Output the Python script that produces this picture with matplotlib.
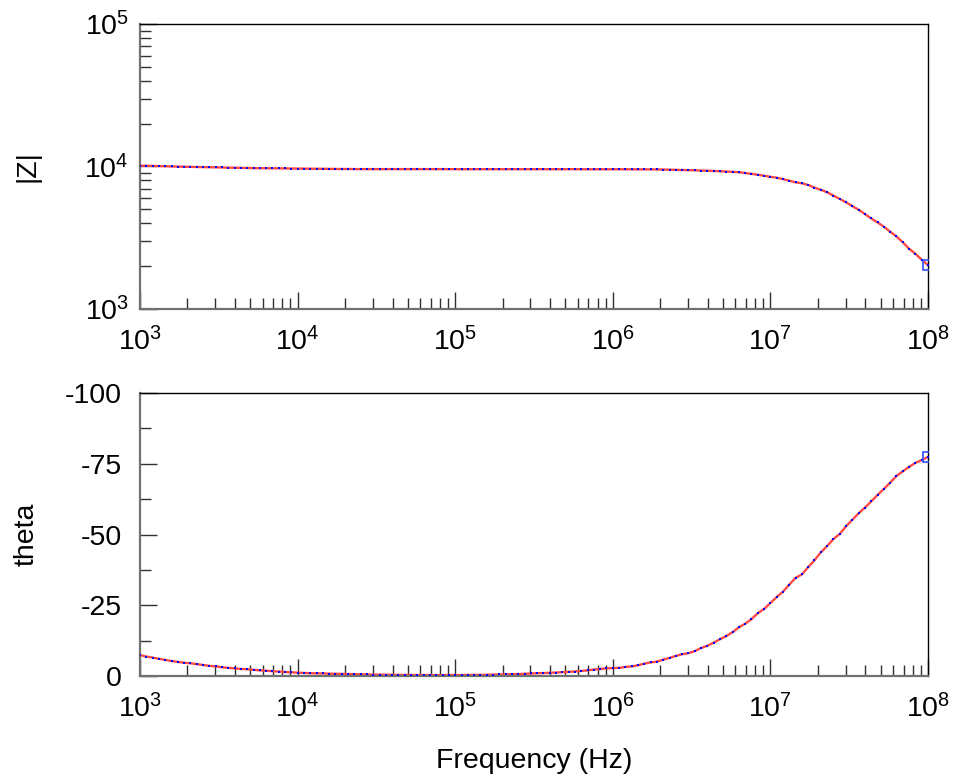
import numpy as np
import matplotlib
matplotlib.use("Agg")
import matplotlib.pyplot as plt
from matplotlib.ticker import FixedLocator, FuncFormatter, LogLocator, NullFormatter

plt.rcParams['font.family'] = ['Liberation Sans', 'DejaVu Sans']
plt.rcParams['axes.unicode_minus'] = False

# frequency sweep: 25 points per decade, 1 kHz .. 100 MHz
freq = np.logspace(3, 8, 126)

# |Z| in ohm
zmod = [
    10150, 10120, 10090, 10060, 10030, 10000, 9980, 9960, 9940, 9920,
    9900, 9880, 9860, 9840, 9820, 9800, 9780, 9760, 9740, 9730,
    9720, 9710, 9700, 9690, 9680, 9670, 9660, 9650, 9640, 9630,
    9620, 9610, 9600, 9600, 9590, 9580, 9580, 9580, 9580, 9580,
    9580, 9580, 9580, 9580, 9580, 9580, 9580, 9580, 9580, 9580,
    9570, 9570, 9570, 9570, 9570, 9570, 9570, 9570, 9570, 9570,
    9570, 9570, 9570, 9570, 9570, 9570, 9570, 9570, 9570, 9570,
    9560, 9560, 9560, 9560, 9560, 9560, 9560, 9560, 9550, 9550,
    9550, 9540, 9530, 9520, 9500, 9470, 9450, 9420, 9400, 9370,
    9340, 9300, 9260, 9220, 9170, 9110, 9000, 8880, 8750, 8610,
    8470, 8340, 8160, 7950, 7740, 7620, 7420, 7100, 6870, 6590,
    6250, 5920, 5610, 5270, 4970, 4630, 4320, 4050, 3780, 3490,
    3230, 2940, 2650, 2440, 2220, 2030,
]

# phase angle in degrees
theta = [
    -7.4, -6.9, -6.5, -6.1, -5.7, -5.3, -5.0, -4.7, -4.5, -4.2,
    -3.9, -3.6, -3.4, -3.1, -2.9, -2.7, -2.5, -2.4, -2.2, -2.0,
    -1.9, -1.7, -1.6, -1.4, -1.3, -1.2, -1.1, -1.0, -0.95, -0.9,
    -0.85, -0.8, -0.75, -0.7, -0.65, -0.6, -0.55, -0.5, -0.5, -0.45,
    -0.45, -0.4, -0.4, -0.4, -0.35, -0.35, -0.35, -0.35, -0.35, -0.35,
    -0.35, -0.35, -0.4, -0.4, -0.4, -0.45, -0.5, -0.55, -0.6, -0.65,
    -0.7, -0.8, -0.9, -1.0, -1.05, -1.15, -1.25, -1.35, -1.5, -1.6,
    -1.8, -2.0, -2.3, -2.5, -2.7, -2.8, -2.9, -3.2, -3.4, -3.8,
    -4.4, -4.8, -5.1, -5.8, -6.4, -7.1, -7.7, -8.1, -8.8, -9.9,
    -10.7, -11.8, -13.0, -14.1, -15.5, -17.2, -18.5, -20.1, -22.2, -23.7,
    -25.8, -27.9, -29.8, -32.3, -34.7, -35.9, -38.5, -40.9, -43.7, -45.9,
    -48.4, -50.2, -52.9, -55.2, -57.5, -59.5, -61.7, -64.0, -66.1, -68.3,
    -70.7, -72.3, -73.9, -75.3, -76.3, -77.4,
]

theta_ticks = [0, -25, -50, -75, -100]
fs = 20.5


def dec_fmt(v, pos):
    return r'$\mathregular{10^{%d}}$' % int(round(np.log10(v)))


fig = plt.figure(figsize=(9.54, 7.82), dpi=100)
ax1 = fig.add_axes([0.1468, 0.6049, 0.8259, 0.3644])
ax2 = fig.add_axes([0.1468, 0.1355, 0.8259, 0.3619])

for ax in (ax1, ax2):
    ax.set_xscale('log')
    ax.set_xlim(1e3, 1e8)
    ax.xaxis.set_major_locator(LogLocator(base=10, numticks=10))
    ax.xaxis.set_minor_locator(LogLocator(base=10, subs=np.arange(2, 10), numticks=20))
    ax.xaxis.set_major_formatter(FuncFormatter(dec_fmt))
    ax.xaxis.set_minor_formatter(NullFormatter())
    ax.tick_params(which='both', direction='in', top=False, right=False,
                   width=1.0, color='#303030', labelsize=fs)
    ax.tick_params(which='major', length=12.5)
    ax.tick_params(which='minor', length=8)
    ax.tick_params(axis='x', pad=13)
    for s in ('left', 'bottom'):
        ax.spines[s].set_color('#707070')
        ax.spines[s].set_linewidth(1.6)
    for s in ('top', 'right'):
        ax.spines[s].set_color('black')
        ax.spines[s].set_linewidth(1.0)

# top: |Z|
ax1.plot(freq, zmod, color='#ff4848', lw=1.7, zorder=2)
ax1.plot(freq, zmod, ls='none', marker='s', ms=1.7, mew=0, mfc='blue', zorder=3)
ax1.plot(freq[-1], zmod[-1], ls='none', marker='s', ms=7, mfc='none', mec='#3050ff', mew=1.2, zorder=4)
ax1.set_yscale('log')
ax1.set_ylim(1e3, 1e5)
ax1.yaxis.set_major_locator(LogLocator(base=10, numticks=10))
ax1.yaxis.set_minor_locator(LogLocator(base=10, subs=np.arange(2, 10), numticks=20))
ax1.yaxis.set_major_formatter(FuncFormatter(dec_fmt))
ax1.yaxis.set_minor_formatter(NullFormatter())
ax1.tick_params(axis='y', pad=8)
ax1.set_ylabel('|Z|', fontsize=fs)
ax1.yaxis.set_label_coords(-0.126, 0.5)

# bottom: theta
ax2.plot(freq, theta, color='#ff4848', lw=1.7, zorder=2)
ax2.plot(freq, theta, ls='none', marker='s', ms=1.7, mew=0, mfc='blue', zorder=3)
ax2.plot(freq[-1], theta[-1], ls='none', marker='s', ms=7, mfc='none', mec='#3050ff', mew=1.2, zorder=4)
ax2.set_ylim(0, -100)
ax2.yaxis.set_major_locator(FixedLocator(theta_ticks))
ax2.yaxis.set_minor_locator(FixedLocator([-12.5, -37.5, -62.5, -87.5]))
ax2.tick_params(axis='y', pad=13)
ax2.set_ylabel('theta', fontsize=fs)
ax2.yaxis.set_label_coords(-0.127, 0.5)
ax2.set_xlabel('Frequency (Hz)', fontsize=fs, labelpad=18)

fig.savefig('out.png', dpi=100, facecolor='white')
